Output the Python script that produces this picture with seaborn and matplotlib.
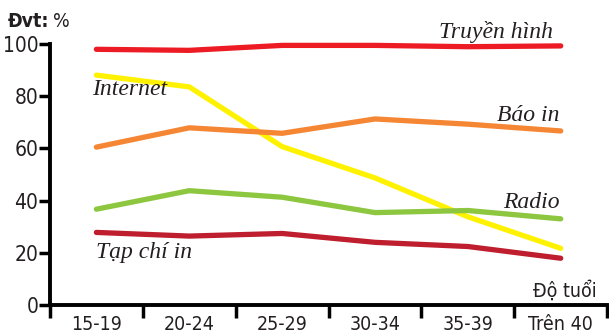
import matplotlib
matplotlib.use("Agg")
import matplotlib.pyplot as plt
import seaborn as sns
import pandas as pd
from matplotlib import font_manager

age_groups = ["15-19", "20-24", "25-29", "30-34", "35-39", "Trên 40"]
truyen_hinh = [98.0, 97.6, 99.5, 99.5, 99.0, 99.3]
internet = [88.1, 83.6, 60.7, 48.7, 33.8, 21.7]
bao_in = [60.5, 67.9, 65.8, 71.3, 69.3, 66.7]
radio = [36.7, 43.8, 41.3, 35.4, 36.2, 33.0]
tap_chi_in = [27.8, 26.4, 27.4, 24.0, 22.4, 17.9]

series_names = ["Truyền hình", "Internet", "Báo in", "Radio", "Tạp chí in"]
series_values = [truyen_hinh, internet, bao_in, radio, tap_chi_in]
colors = ["#ED1C24", "#FFF200", "#F58634", "#8DC63F", "#BE1E2D"]

rows = []
for name, vals in zip(series_names, series_values):
    for i, v in enumerate(vals):
        rows.append({"pos": i, "age": age_groups[i], "series": name, "value": v})
df = pd.DataFrame(rows)

sns.set_theme(style="white")
fm = font_manager.fontManager
cond_fonts = [f for f in fm.ttflist if f.name == "DejaVu Sans" and "ondensed" in f.fname]
plt.rcParams["font.family"] = ["DejaVu Sans"]
if cond_fonts:
    plt.rcParams["font.stretch"] = "condensed"

fig = plt.figure(figsize=(6.09, 3.34), dpi=100)
ax = fig.add_axes([0.082, 0.087, 0.915, 0.781])

sns.lineplot(data=df, x="pos", y="value", hue="series", hue_order=series_names,
             palette=colors, linewidth=3.8, legend=False, ax=ax, sort=False)
for ln in ax.get_lines():
    ln.set_solid_capstyle("round")
    ln.set_solid_joinstyle("round")
    ln.set_clip_on(False)

ax.set_xlim(-0.5, 5.5)
ax.set_ylim(0, 100)
ax.set_yticks([0, 20, 40, 60, 80, 100])
ax.set_yticklabels(["0", "20", "40", "60", "80", "100"], fontsize=15)
ax.set_xticks([i for i in range(len(age_groups))])
ax.set_xticklabels(age_groups, fontsize=14)
ax.set_xticks([i - 0.5 for i in range(len(age_groups) + 1)], minor=True)
ax.tick_params(axis="x", which="both", bottom=True)
ax.tick_params(axis="y", which="both", left=True)
ax.tick_params(axis="x", which="major", length=0, pad=7)
ax.tick_params(axis="x", which="minor", length=9, width=2.5, color="black", direction="out")
ax.tick_params(axis="y", which="major", length=8, width=2.5, color="black", direction="out", pad=0.5)
ax.set_xlabel("")
ax.set_ylabel("")
for s in ["top", "right"]:
    ax.spines[s].set_visible(False)
for s in ["left", "bottom"]:
    ax.spines[s].set_color("black")
    ax.spines[s].set_linewidth(2.8)
for lbl in ax.get_xticklabels() + ax.get_yticklabels():
    lbl.set_color("#231F20")

serif = dict(family="Liberation Serif", style="italic", fontsize=17, color="#231F20")
ax.text(-0.05, 82.5, "Internet", ha="left", va="center", **serif)
ax.text(4.92, 104.6, "Truyền hình", ha="right", va="center", **serif)
ax.text(4.99, 72.8, "Báo in", ha="right", va="center", **serif)
ax.text(4.99, 39.3, "Radio", ha="right", va="center", **serif)
ax.text(0.0, 20.0, "Tạp chí in", ha="left", va="center", **serif)

fig.text(0.012, 0.935, "Đvt:", fontsize=14, fontweight="bold", color="#231F20", va="center")
fig.text(0.087, 0.935, "%", fontsize=14, color="#231F20", va="center")
fig.text(0.98, 0.13, "Độ tuổi", fontsize=14, color="#231F20", ha="right", va="center")

fig.savefig("out.png", dpi=100)
